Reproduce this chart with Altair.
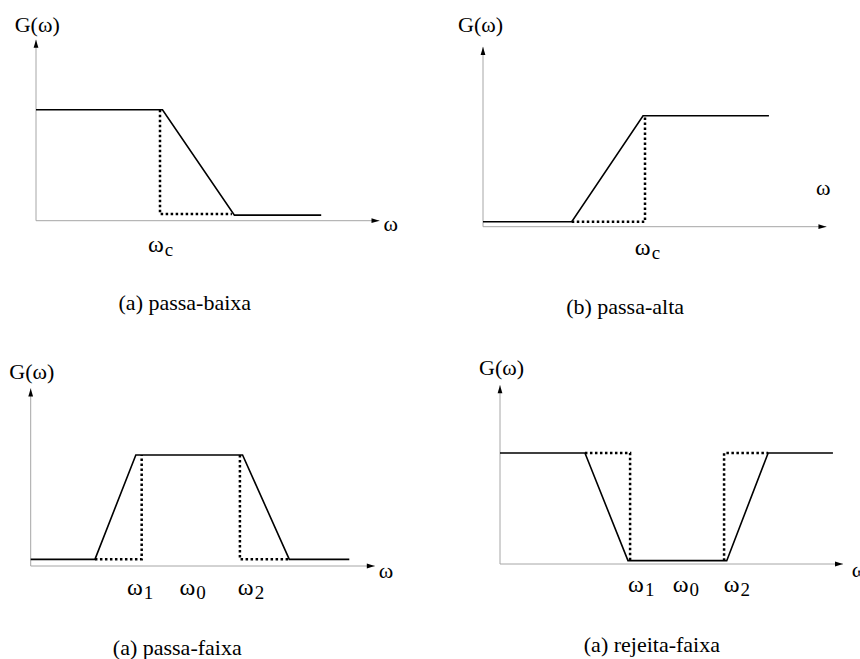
import altair as alt
import pandas as pd

FONT = "Liberation Serif"
AXIS_GREY = "#a6a6a6"

# ---------------- (a) passa-baixa ----------------
lp_solid_w = [0.0, 1.02, 1.60, 2.30]
lp_solid_g = [1.0, 1.0, 0.05, 0.05]
lp_ideal_w = [[1.0, 1.0, 1.58]]
lp_ideal_g = [[1.0, 0.06, 0.06]]
lp_tick_w = [0.966]
lp_tick_sub = ["c"]

# ---------------- (b) passa-alta ----------------
hp_solid_w = [0.0, 0.548, 0.988, 1.765]
hp_solid_g = [0.045, 0.045, 1.0, 1.0]
hp_ideal_w = [[0.548, 1.0, 1.0]]
hp_ideal_g = [[0.045, 0.045, 1.0]]
hp_tick_w = [0.986]
hp_tick_sub = ["c"]

# ---------------- (a) passa-faixa ----------------
bp_solid_w = [0.0, 1.21, 1.98, 3.99, 4.87, 6.0]
bp_solid_g = [0.06, 0.06, 1.0, 1.0, 0.06, 0.06]
bp_ideal_w = [[1.21, 2.09, 2.09], [3.94, 3.94, 4.87]]
bp_ideal_g = [[0.06, 0.06, 1.0], [1.0, 0.06, 0.06]]
bp_tick_w = [1.96, 2.95, 4.05]
bp_tick_sub = ["1", "0", "2"]

# ---------------- (a) rejeita-faixa ----------------
bs_solid_w = [0.0, 1.60, 2.41, 4.27, 5.05, 6.27]
bs_solid_g = [1.0, 1.0, 0.03, 0.03, 1.0, 1.0]
bs_ideal_w = [[1.60, 2.45, 2.45], [4.22, 4.22, 5.05]]
bs_ideal_g = [[1.0, 1.0, 0.03], [0.03, 1.0, 1.0]]
bs_tick_w = [2.56, 3.40, 4.36]
bs_tick_sub = ["1", "0", "2"]

ARROW_RIGHT = "M-2,-0.6L0,0L-2,0.6Z"
ARROW_UP = "M-0.6,2L0,0L0.6,2Z"


def panel(solid_w, solid_g, ideal_w, ideal_g, tick_w, tick_sub, tick_g,
          axis_w_end, axis_g_end, omega_pos, gw_pos, caption, caption_pos,
          ox, oy, ux, uy, W, H):
    """One filter sketch: arrowed axes, real response (solid) and ideal response (dotted)."""
    xs = alt.Scale(domain=[-ox / ux, (W - ox) / ux], nice=False, zero=False)
    ys = alt.Scale(domain=[-(H - oy) / uy, oy / uy], nice=False, zero=False)
    X = lambda f: alt.X(f, type="quantitative", scale=xs, axis=None)
    Y = lambda f: alt.Y(f, type="quantitative", scale=ys, axis=None)

    axes_df = pd.DataFrame({"w": [0.0, 0.0], "g": [0.0, 0.0],
                            "w2": [axis_w_end, 0.0], "g2": [0.0, axis_g_end]})
    axes = alt.Chart(axes_df).mark_rule(color=AXIS_GREY, strokeWidth=1).encode(
        x=X("w"), y=Y("g"), x2="w2", y2="g2")

    tip_x = alt.Chart(pd.DataFrame({"w": [axis_w_end], "g": [0.0]})).mark_point(
        shape=ARROW_RIGHT, size=64, filled=True, color="black", opacity=1
    ).encode(x=X("w"), y=Y("g"))
    tip_y = alt.Chart(pd.DataFrame({"w": [0.0], "g": [axis_g_end]})).mark_point(
        shape=ARROW_UP, size=64, filled=True, color="black", opacity=1
    ).encode(x=X("w"), y=Y("g"))

    solid_df = pd.DataFrame({"w": solid_w, "g": solid_g, "k": range(len(solid_w))})
    solid = alt.Chart(solid_df).mark_line(color="black", strokeWidth=1.6).encode(
        x=X("w"), y=Y("g"), order="k:Q")

    rows = []
    for s, (ws, gs) in enumerate(zip(ideal_w, ideal_g)):
        for k, (w, g) in enumerate(zip(ws, gs)):
            rows.append({"w": w, "g": g, "seg": s, "k": k})
    ideal = alt.Chart(pd.DataFrame(rows)).mark_line(
        color="black", strokeWidth=2.5, strokeDash=[2.5, 2.5], strokeCap="butt"
    ).encode(x=X("w"), y=Y("g"), detail="seg:N", order="k:Q")

    ticks_df = pd.DataFrame({"w": tick_w, "g": [tick_g] * len(tick_w),
                             "sym": ["ω"] * len(tick_w), "sub": tick_sub})
    tick_sym = alt.Chart(ticks_df).mark_text(
        font=FONT, fontSize=24, align="center", baseline="middle", color="black"
    ).encode(x=X("w"), y=Y("g"), text="sym:N")
    tick_subs = alt.Chart(ticks_df).mark_text(
        font=FONT, fontSize=19, align="left", baseline="middle", dx=9, dy=5,
        color="black"
    ).encode(x=X("w"), y=Y("g"), text="sub:N")

    labels_df = pd.DataFrame({
        "w": [omega_pos[0], gw_pos[0]],
        "g": [omega_pos[1], gw_pos[1]],
        "t": ["ω", "G(ω)"],
        "s": [22, 22],
    })
    labels = alt.Chart(labels_df).mark_text(
        font=FONT, align="center", baseline="middle", color="black", clip=True
    ).encode(x=X("w"), y=Y("g"), text="t:N",
             size=alt.Size("s:Q", scale=None, legend=None))

    cap = alt.Chart(pd.DataFrame({"w": [caption_pos[0]], "g": [caption_pos[1]],
                                  "t": [caption]})).mark_text(
        font=FONT, fontSize=22, align="center", baseline="middle", color="black"
    ).encode(x=X("w"), y=Y("g"), text="t:N")

    return alt.layer(axes, tip_x, tip_y, ideal, solid, tick_sym, tick_subs,
                     labels, cap).properties(width=W, height=H)


lowpass = panel(lp_solid_w, lp_solid_g, lp_ideal_w, lp_ideal_g, lp_tick_w, lp_tick_sub, -0.22,
                2.77, 1.63, (2.86, -0.03), (0.01, 1.76), "(a) passa-baixa", (1.2, -0.74),
                ox=36, oy=220.7, ux=124, uy=111, W=430, H=330)
highpass = panel(hp_solid_w, hp_solid_g, hp_ideal_w, hp_ideal_g, hp_tick_w, hp_tick_sub, -0.19,
                 2.12, 1.62, (2.10, 0.35), (-0.015, 1.82), "(b) passa-alta", (0.877, -0.72),
                 ox=53, oy=226.7, ux=162, uy=111, W=430, H=330)
bandpass = panel(bp_solid_w, bp_solid_g, bp_ideal_w, bp_ideal_g, bp_tick_w, bp_tick_sub, -0.2,
                 6.48, 1.60, (6.69, -0.045), (0.02, 1.75), "(a) passa-faixa", (2.76, -0.74),
                 ox=30.7, oy=236, ux=53.1, uy=111, W=430, H=329)
bandstop = panel(bs_solid_w, bs_solid_g, bs_ideal_w, bs_ideal_g, bs_tick_w, bs_tick_sub, -0.19,
                 6.46, 1.61, (6.76, -0.054), (0.03, 1.77), "(a) rejeita-faixa", (2.86, -0.73),
                 ox=70, oy=234, ux=53.1, uy=111, W=430, H=329)

chart = alt.vconcat(
    alt.hconcat(lowpass, highpass, spacing=0),
    alt.hconcat(bandpass, bandstop, spacing=0),
    spacing=0,
).properties(
    padding=0, background="white"
).configure_view(stroke=None).configure_concat(spacing=0)

chart.save("out.html", embed_options={"renderer": "svg", "actions": False})
